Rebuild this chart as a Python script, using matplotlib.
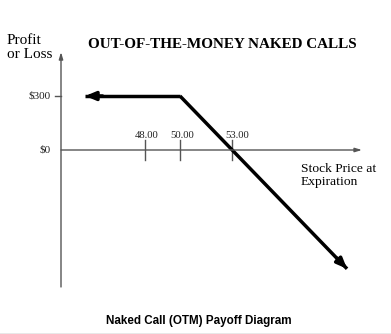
import matplotlib
matplotlib.use("Agg")
import matplotlib.pyplot as plt

# Data
strike = 50.0
premium = 300.0
breakeven = 53.0
tick_prices = [48.00, 50.00, 53.00]
tick_labels = ["48.00", "50.00", "53.00"]
y_ticks = [300, 0]
y_labels = ["$300", "$0"]
payoff_x = [44.55, 50.0, 59.6]
payoff_y = [300, 300, -660]

W, H = 391, 334
fig = plt.figure(figsize=(W / 100, H / 100), dpi=100)
ax = fig.add_axes([0, 0, 1, 1])
# pixel mapping: x_px = 180 + (v-50)*17.4 ; y_px = 150 - v*0.18
sx, sy = 17.4, 0.18
ax.set_xlim(50 - 180 / sx, 50 + (W - 180) / sx)
ax.set_ylim(-(H - 150) / sy, 150 / sy)
ax.axis("off")

serif = "Liberation Serif"
axc = "#555555"
x0 = 50 - 119 / sx  # y-axis position
# axes
ax.annotate("", xy=(x0, 544), xytext=(x0, -761),
            arrowprops=dict(arrowstyle="-|>,head_length=0.4,head_width=0.12", color=axc, lw=1, shrinkA=0, shrinkB=0))
ax.annotate("", xy=(60.46, 0), xytext=(x0, 0),
            arrowprops=dict(arrowstyle="-|>,head_length=0.4,head_width=0.12", color=axc, lw=1, shrinkA=0, shrinkB=0))

# x ticks
for p, lab in zip(tick_prices, tick_labels):
    ax.plot([p, p], [-55, 55], color=axc, lw=1)
    off = 0.3 if p == 53.0 else 0.1
    ax.text(p + off, 78, lab, ha="center", va="center", fontsize=7.7, family=serif, color="#222222")

# y ticks
for v, lab in zip(y_ticks, y_labels):
    if v != 0:
        ax.plot([x0 - 6 / sx, x0], [v, v], color=axc, lw=1)
    ax.text(x0 - 10 / sx, v, lab, ha="right", va="center", fontsize=8, family=serif, color="#222222")

# payoff
ax.plot(payoff_x[1:], payoff_y[1:], color="black", lw=2.5, solid_capstyle="butt")
ax.plot(payoff_x[:2], payoff_y[:2], color="black", lw=2.5, solid_capstyle="butt")
ax.annotate("", xy=(payoff_x[0], payoff_y[0]), xytext=(payoff_x[0] + 1.0, payoff_y[0]),
            arrowprops=dict(arrowstyle="-|>,head_length=0.6,head_width=0.25", color="black", lw=2.5, shrinkA=0, shrinkB=0))
ax.annotate("", xy=(payoff_x[2], payoff_y[2]), xytext=(payoff_x[2] - 0.6, payoff_y[2] + 60),
            arrowprops=dict(arrowstyle="-|>,head_length=0.6,head_width=0.25", color="black", lw=2.5, shrinkA=0, shrinkB=0))

# texts
fig.text(7 / W, 1 - 47.5 / H, "Profit\nor Loss", ha="left", va="center", fontsize=11, family=serif, linespacing=1.2)
fig.text(222.5 / W, 1 - 45 / H, "OUT-OF-THE-MONEY NAKED CALLS", ha="center", va="center",
         fontsize=10.9, family=serif, fontweight="bold")
fig.text(301 / W, 1 - 175.5 / H, "Stock Price at\nExpiration", ha="left", va="center", fontsize=9.7,
         family=serif, linespacing=1.05)
fig.text(199 / W, 1 - 321 / H, "Naked Call (OTM) Payoff Diagram", ha="center", va="center",
         fontsize=8.4, family="Liberation Sans", fontweight="bold")
fig.add_artist(plt.Line2D([0, 1], [0.5 / H, 0.5 / H], color="#e6e6e6", lw=2))

fig.savefig("out.png", dpi=100)
